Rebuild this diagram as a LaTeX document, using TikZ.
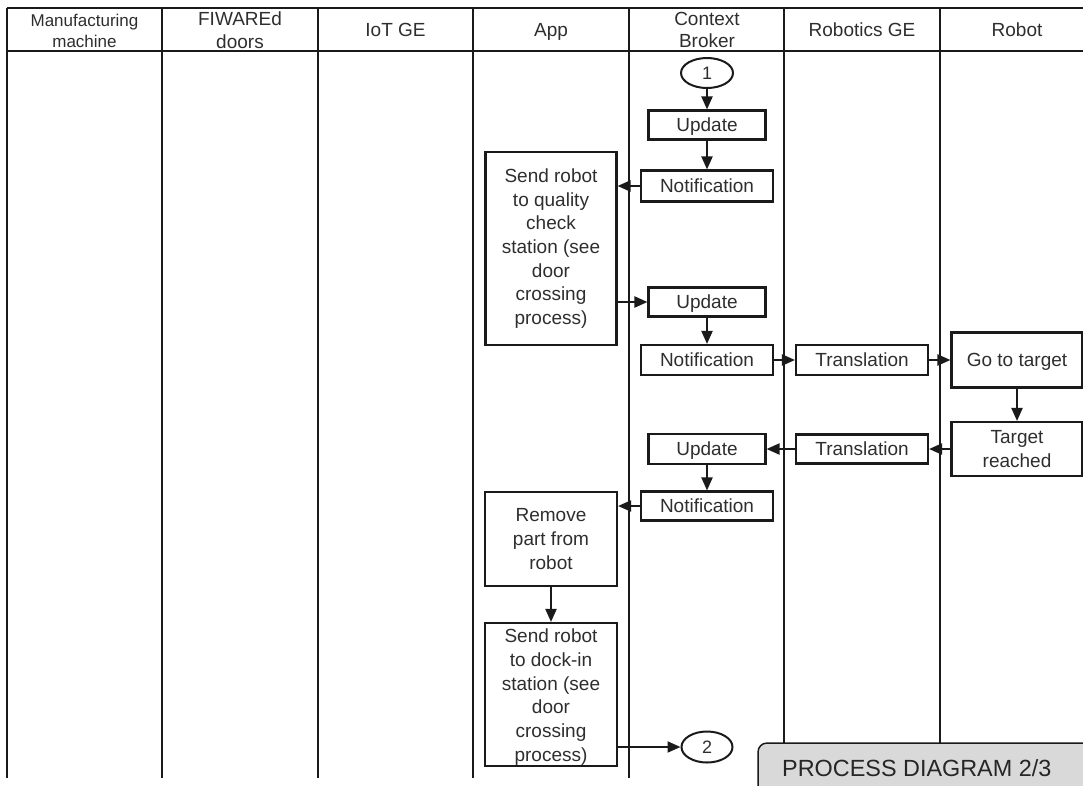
\documentclass[tikz,border=0pt]{standalone}
\usepackage{fontspec}
\setmainfont{Liberation Sans}
\usetikzlibrary{arrows.meta,shapes.geometric}
\definecolor{txt}{HTML}{2E2E2E}
\definecolor{rule}{HTML}{1A1A1A}
\definecolor{tag}{HTML}{D9D9D9}
\begin{document}
\begin{tikzpicture}[x=1pt,y=-1pt,
  lane/.style={draw=rule, line width=2.1pt},
  boxbase/.style={draw=rule, line width=2.1pt, rectangle, inner sep=0pt,
    text=txt, font=\fontsize{19}{23.7}\selectfont},
  stepbox/.style={boxbase, text height=13.6pt, text depth=0pt},
  tallbox/.style={boxbase, align=center},
  connector/.style={draw=rule, line width=2pt, ellipse, inner sep=0pt,
    text=txt, font=\fontsize{18}{20}\selectfont, text height=12.9pt, text depth=0pt},
  headtwo/.style={text=txt, inner sep=0pt, font=\fontsize{19}{22.5}\selectfont, align=center},
  head/.style={text=txt, inner sep=0pt, font=\fontsize{19}{22.5}\selectfont,
    text height=13.6pt, text depth=0pt},
  arr/.style={draw=rule, line width=2pt, -{Triangle[length=13pt,width=11pt]}}]
\useasboundingbox (0,0) rectangle (1083,785);
\begin{scope}
\clip (0,0) rectangle (1083,785);

% swimlane header and lane rules
\draw[lane] (7,8) -- (1100,8);
\draw[lane] (7,51) -- (1100,51);
\foreach \x in {7,162,318,473,629}
  \draw[lane] (\x,8) -- (\x,778);
\foreach \x in {784,940}
  \draw[lane] (\x,8) -- (\x,744);

\node[headtwo, font=\fontsize{17}{21.5}\selectfont] (hmm) at (84.5,31) {Manufacturing\\machine};
\node[headtwo] (hfd) at (240,30) {FIWAREd\\doors};
\node[head] (hiot) at (395.5,30) {IoT GE};
\node[head] (happ) at (551,30) {App};
\node[headtwo] (hcb) at (707,30) {Context\\Broker};
\node[head] (hrge) at (862,30) {Robotics GE};
\node[head] (hrob) at (1017,30) {Robot};

% process steps
\node[connector, minimum width=52pt, minimum height=30pt] (c1) at (707,73) {1};
\node[stepbox, minimum width=117pt, minimum height=29pt] (u1) at (707,125) {Update};
\node[stepbox, minimum width=132pt, minimum height=31pt] (n1) at (707,186) {Notification};
\node[tallbox, minimum width=131pt, minimum height=193pt] (s1) at (551,248.5)
  {Send robot\\to quality\\check\\station (see\\door\\crossing\\process)};
\node[stepbox, minimum width=117pt, minimum height=29pt] (u2) at (707,302) {Update};
\node[stepbox, minimum width=132pt, minimum height=30pt] (n2) at (707,360) {Notification};
\node[stepbox, minimum width=132pt, minimum height=30pt] (t1) at (862,360) {Translation};
\node[stepbox, minimum width=131pt, minimum height=55pt] (g1) at (1017,360) {Go to target};
\node[tallbox, minimum width=131pt, minimum height=54pt] (tr) at (1017,449) {Target\\reached};
\node[stepbox, minimum width=132pt, minimum height=29pt] (t2) at (862,449) {Translation};
\node[stepbox, minimum width=117pt, minimum height=30pt] (u3) at (707,449) {Update};
\node[stepbox, minimum width=132pt, minimum height=29pt] (n3) at (707,506) {Notification};
\node[tallbox, minimum width=132pt, minimum height=94pt] (rp) at (551,539)
  {Remove\\part from\\robot};
\node[boxbase, minimum width=132pt, minimum height=143pt] (sd) at (551,694.5) {};
\node[text=txt, align=center, inner sep=0pt, font=\fontsize{19}{23.7}\selectfont] (sdt) at (551,697)
  {Send robot\\to dock-in\\station (see\\door\\crossing\\process)};
\node[connector, minimum width=51pt, minimum height=31pt] (c2) at (707,747) {2};

% flow
\draw[arr] (c1) -- (u1);
\draw[arr] (u1) -- (n1);
\draw[arr] (n1.west) -- (n1.west -| s1.east);
\draw[arr] (s1.east |- u2.west) -- (u2.west);
\draw[arr] (u2) -- (n2);
\draw[arr] (n2) -- (t1);
\draw[arr] (t1) -- (g1);
\draw[arr] (g1) -- (tr);
\draw[arr] (tr) -- (t2);
\draw[arr] (t2) -- (u3);
\draw[arr] (u3) -- (n3);
\draw[arr] (n3.west) -- (n3.west -| rp.east);
\draw[arr] (rp) -- (sd);
\draw[arr] (sd.east |- c2.west) -- (c2.west);

% page tag
\draw[draw=rule, line width=1.5pt, fill=tag, rounded corners=9pt] (758,743) rectangle (1110,810);
\node[anchor=west, inner sep=0pt, text=black!85, font=\fontsize{23.4}{26}\selectfont] (tagtext) at (782,768)
  {PROCESS DIAGRAM 2/3};
\end{scope}
\end{tikzpicture}
\end{document}
